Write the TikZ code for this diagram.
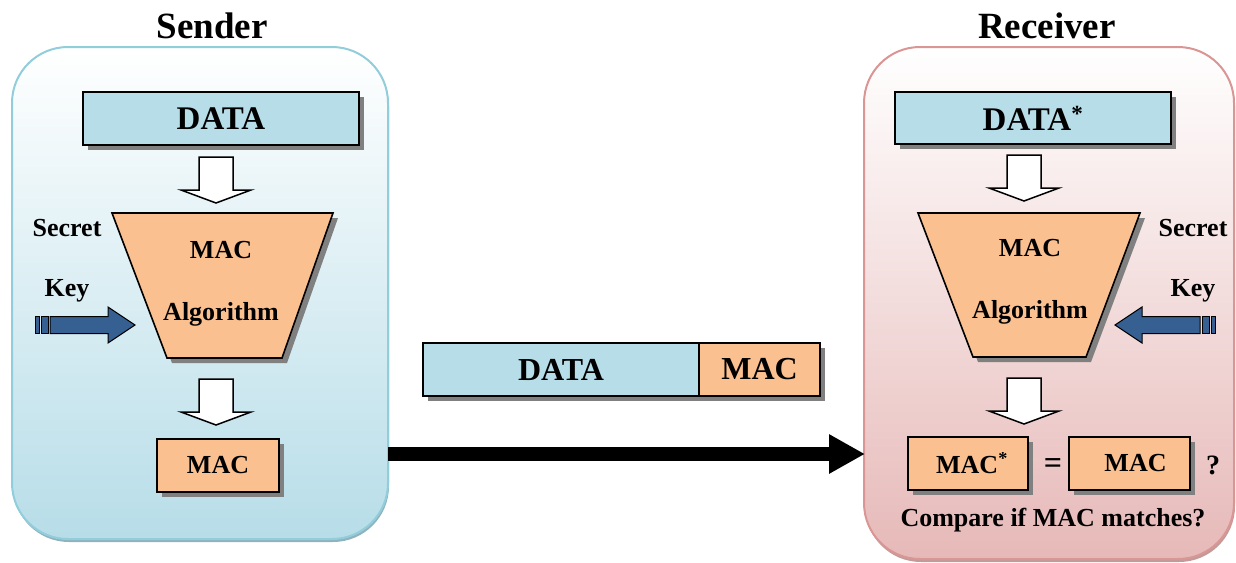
\documentclass[tikz,border=0pt]{standalone}
\usepackage{fontspec}
\setmainfont{Liberation Serif}
\usetikzlibrary{arrows.meta,shadows,calc}

\definecolor{databg}{HTML}{B7DDE8}
\definecolor{macbg}{HTML}{FAC090}
\definecolor{keyblue}{HTML}{376092}
\definecolor{sendedge}{HTML}{92CDDC}
\definecolor{sendfill}{HTML}{B7DDE8}
\definecolor{sendshade}{HTML}{8FB3BD}
\definecolor{recvedge}{HTML}{D99694}
\definecolor{recvfill}{HTML}{E6B9B8}
\definecolor{recvshade}{HTML}{C29A9A}
\definecolor{boxshadow}{HTML}{808080}

\tikzset{
  panel/.style={rounded corners=56pt, line width=2pt, inner sep=0pt, outer sep=0pt},
  sendpanel/.style={panel, draw=sendedge, top color=white, bottom color=sendfill,
    drop shadow={shadow xshift=1pt, shadow yshift=-3pt, fill=sendshade, opacity=1}},
  recvpanel/.style={panel, draw=recvedge, top color=white, bottom color=recvfill,
    drop shadow={shadow xshift=1pt, shadow yshift=-3pt, fill=recvshade, opacity=1}},
  shadowed/.style={drop shadow={shadow xshift=5pt, shadow yshift=-5pt, fill=boxshadow, opacity=1}},
  block/.style={draw=black, line width=1.6pt, inner sep=0pt, outer sep=0pt, shadowed},
  databox/.style={block, fill=databg},
  macbox/.style={block, fill=macbg},
  title/.style={font=\fontsize{37}{42}\selectfont\bfseries},
  label/.style={font=\fontsize{26}{30}\selectfont\bfseries},
  big/.style={font=\fontsize{33}{36}\selectfont\bfseries},
  middle/.style={font=\fontsize{32}{36}\selectfont\bfseries},
  pics/hollowdown/.style={code={
    \draw[line width=1.5pt, fill=white, line join=miter]
      (-17,0) -- (17,0) -- (17,33) -- (35,33) -- (0,46) -- (-35,33) -- (-17,33) -- cycle;}},
  pics/keyarrow/.style={code={
    \draw[line width=1pt, fill=keyblue, line join=miter]
      (-85,-8.5) -- (-27,-8.5) -- (-27,-18) -- (0,0) -- (-27,18) -- (-27,8.5) -- (-85,8.5) -- cycle;
    \draw[line width=1pt, fill=keyblue] (-100,-8.5) rectangle (-96,8.5);
    \draw[line width=1pt, fill=keyblue] (-94,-8.5) rectangle (-87,8.5);}},
  algo/.style={fill=macbg, draw=black, line width=1.6pt, line join=miter},
  algoshadow/.style={fill=boxshadow}
}

\begin{document}
\begin{tikzpicture}[x=1pt, y=-1pt]
\useasboundingbox (0,0) rectangle (1236,562);

% ---------- panels ----------
\node[sendpanel, minimum width=376pt, minimum height=492pt] (sender) at (200,293) {};
\node[recvpanel, minimum width=370pt, minimum height=512pt] (receiver) at (1049,303) {};

\node[title] (sendtitle) at (212,26) {Sender};
\node[title] (recvtitle) at (1047,26) {Receiver};

% ---------- sender side ----------
\node[databox, big, minimum width=276pt, minimum height=53pt] (sdata) at (221,118.5) {\raisebox{-2pt}{DATA}};

\path (sdata.south) ++(-5,12) pic {hollowdown};

\coordinate (stl) at (112,213);
\coordinate (str) at (333,213);
\coordinate (sbr) at (282,358);
\coordinate (sbl) at (167,358);
\fill[algoshadow] ($(stl)+(5,5)$) -- ($(str)+(5,5)$) -- ($(sbr)+(5,5)$) -- ($(sbl)+(5,5)$) -- cycle;
\path[algo] (stl) -- (str) -- (sbr) -- (sbl) -- cycle;
\node[label, align=center, font=\fontsize{26}{62}\selectfont\bfseries] (salgo) at (221,284) {MAC\\Algorithm};

\node[label] (ssecret) at (67,228) {Secret};
\node[label] (skey) at (67,291) {Key};
\path (135,325) pic {keyarrow};

\path (sdata.south) ++(-5,234) pic {hollowdown};

\node[macbox, label, minimum width=122pt, minimum height=53pt] (smac) at (218,465.5) {MAC};

% ---------- transmitted message ----------
\node[databox, middle, minimum width=276pt, minimum height=53pt] (mdata) at (561,369.5) {\raisebox{-2pt}{DATA}};
\node[macbox, middle, minimum width=121pt, minimum height=53pt, anchor=west] (mmac) at (mdata.east) {\raisebox{-2pt}{MAC}};

\coordinate (wire) at (0,454);
\draw[line width=14pt, -{Triangle[length=36pt, width=37pt]}] (sender.east |- wire) -- ([xshift=1pt]receiver.west |- wire);

% ---------- receiver side ----------
\node[databox, big, minimum width=276pt, minimum height=52pt] (rdata) at (1033,118) {\raisebox{-2pt}{DATA\textsuperscript{*}}};

\path (rdata.south) ++(-9,11) pic {hollowdown};

\coordinate (rtl) at (918,213);
\coordinate (rtr) at (1140,213);
\coordinate (rbr) at (1086,357);
\coordinate (rbl) at (973,357);
\fill[algoshadow] ($(rtl)+(5,5)$) -- ($(rtr)+(5,5)$) -- ($(rbr)+(5,5)$) -- ($(rbl)+(5,5)$) -- cycle;
\path[algo] (rtl) -- (rtr) -- (rbr) -- (rbl) -- cycle;
\node[label, align=center, font=\fontsize{26}{62}\selectfont\bfseries] (ralgo) at (1030,282) {MAC\\Algorithm};

\node[label] (rsecret) at (1193,228) {Secret};
\node[label] (rkey) at (1193,291) {Key};
\path (1115,325) pic[xscale=-1] {keyarrow};

\path (rdata.south) ++(-9,234) pic {hollowdown};

\node[macbox, label, minimum width=120pt, minimum height=53pt] (rmacstar) at (968,463.5) {\hspace{8pt}MAC\textsuperscript{*}};
\node[font=\fontsize{32}{34}\selectfont\bfseries] (eq) at (1053,466) {=};
\node[macbox, label, minimum width=121pt, minimum height=53pt] (rmac) at (1129.5,463.5) {\hspace{12pt}MAC};
\node[font=\fontsize{28}{32}\selectfont\bfseries] (qm) at (1213,465) {?};
\node[label] (compare) at (1053,520) {Compare if MAC matches?};

\end{tikzpicture}
\end{document}
